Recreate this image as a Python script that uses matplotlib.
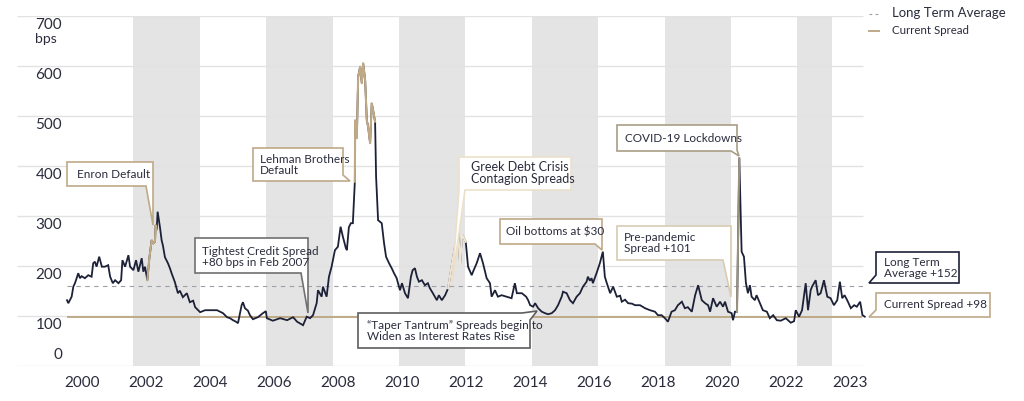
import matplotlib
matplotlib.use("Agg")
import matplotlib.pyplot as plt
from matplotlib.patches import Polygon
from matplotlib.lines import Line2D
from matplotlib.transforms import blended_transform_factory

plt.rcParams['font.family'] = ['Lato', 'DejaVu Sans']

# spread history (bps)
years = [
    2000.00, 2000.04, 2000.14, 2000.19, 2000.24, 2000.29, 2000.34, 2000.39, 2000.44, 2000.54,
    2000.64, 2000.74, 2000.79, 2000.84, 2000.89, 2000.97, 2001.05, 2001.14, 2001.24, 2001.30,
    2001.38, 2001.45, 2001.55, 2001.63, 2001.67, 2001.75, 2001.85, 2001.90, 2002.00, 2002.08,
    2002.15, 2002.25, 2002.30, 2002.35, 2002.42, 2002.48, 2002.55, 2002.60, 2002.65, 2002.67,
    2002.70, 2002.73, 2002.80, 2002.85, 2002.89, 2002.95, 2003.04, 2003.10, 2003.15, 2003.25,
    2003.34, 2003.40, 2003.49, 2003.61, 2003.70, 2003.80, 2003.86, 2004.01, 2004.16, 2004.31,
    2004.52, 2004.70, 2004.82, 2004.91, 2005.00, 2005.09, 2005.15, 2005.26, 2005.30, 2005.36,
    2005.45, 2005.51, 2005.60, 2005.75, 2005.90, 2005.99, 2006.02, 2006.20, 2006.42, 2006.63,
    2006.81, 2006.93, 2007.11, 2007.22, 2007.32, 2007.41, 2007.52, 2007.56, 2007.67, 2007.71,
    2007.82, 2007.89, 2007.97, 2008.07, 2008.16, 2008.24, 2008.31, 2008.40, 2008.43, 2008.49,
    2008.55, 2008.61, 2008.67, 2008.68, 2008.73, 2008.77, 2008.83, 2008.88, 2008.92, 2008.98,
    2009.03, 2009.07, 2009.13, 2009.18, 2009.22, 2009.28, 2009.31, 2009.37, 2009.48, 2009.55,
    2009.61, 2009.70, 2009.78, 2009.85, 2009.93, 2009.97, 2010.03, 2010.09, 2010.18, 2010.27,
    2010.36, 2010.41, 2010.48, 2010.54, 2010.60, 2010.69, 2010.78, 2010.87, 2010.93, 2011.02,
    2011.14, 2011.20, 2011.29, 2011.39, 2011.48, 2011.59, 2011.69, 2011.78, 2011.84, 2011.90,
    2012.01, 2012.08, 2012.19, 2012.23, 2012.34, 2012.44, 2012.53, 2012.64, 2012.74, 2012.79,
    2012.89, 2012.98, 2013.09, 2013.24, 2013.39, 2013.49, 2013.55, 2013.70, 2013.83, 2013.89,
    2013.95, 2014.04, 2014.10, 2014.19, 2014.30, 2014.40, 2014.49, 2014.60, 2014.70, 2014.79,
    2014.90, 2014.94, 2015.05, 2015.15, 2015.24, 2015.35, 2015.45, 2015.54, 2015.65, 2015.69,
    2015.75, 2015.80, 2015.84, 2015.95, 2016.05, 2016.14, 2016.20, 2016.26, 2016.36, 2016.45,
    2016.56, 2016.66, 2016.71, 2016.81, 2016.90, 2017.02, 2017.11, 2017.26, 2017.41, 2017.56,
    2017.71, 2017.80, 2017.91, 2018.01, 2018.10, 2018.21, 2018.31, 2018.40, 2018.52, 2018.61,
    2018.70, 2018.82, 2018.92, 2019.01, 2019.12, 2019.22, 2019.31, 2019.37, 2019.46, 2019.57,
    2019.67, 2019.76, 2019.82, 2019.91, 2020.02, 2020.06, 2020.12, 2020.18, 2020.20, 2020.25,
    2020.32, 2020.39, 2020.45, 2020.51, 2020.57, 2020.62, 2020.72, 2020.77, 2020.87, 2020.96,
    2021.08, 2021.17, 2021.27, 2021.38, 2021.50, 2021.65, 2021.80, 2021.90, 2021.95, 2022.05,
    2022.14, 2022.25, 2022.32, 2022.40, 2022.44, 2022.55, 2022.62, 2022.70, 2022.80, 2022.90,
    2023.00, 2023.10, 2023.20, 2023.28, 2023.35, 2023.42, 2023.50, 2023.61, 2023.71, 2023.79,
    2023.89, 2023.96, 2024.03,
]
spread = [
    131, 125, 138, 158, 165, 175, 185, 175, 179, 175,
    181, 178, 205, 208, 198, 218, 198, 198, 201, 178,
    165, 171, 165, 171, 211, 198, 221, 198, 191, 211,
    188, 215, 188, 198, 171, 215, 251, 245, 248, 281,
    272, 308, 277, 251, 240, 217, 205, 195, 185, 167,
    145, 150, 137, 145, 127, 130, 117, 107, 111, 111,
    111, 105, 97, 95, 91, 88, 85, 121, 127, 115,
    110, 101, 93, 97, 105, 109, 95, 90, 95, 91,
    97, 88, 81, 98, 95, 101, 125, 151, 138, 158,
    138, 178, 198, 231, 238, 278, 258, 235, 231, 277,
    285, 285, 368, 491, 455, 578, 598, 565, 605, 571,
    491, 478, 445, 525, 511, 488, 378, 291, 285, 245,
    218, 205, 195, 185, 175, 165, 151, 165, 145, 135,
    178, 191, 195, 178, 168, 171, 161, 165, 155, 145,
    131, 141, 131, 141, 155, 201, 240, 271, 201, 262,
    248, 198, 181, 188, 205, 225, 205, 175, 165, 138,
    151, 138, 141, 138, 135, 165, 145, 145, 138, 131,
    121, 118, 125, 115, 108, 105, 103, 105, 111, 121,
    138, 148, 145, 131, 125, 138, 145, 158, 168, 178,
    170, 175, 165, 185, 205, 228, 178, 165, 145, 158,
    138, 140, 128, 132, 125, 124, 121, 121, 115, 111,
    108, 101, 101, 95, 88, 108, 111, 121, 128, 115,
    117, 108, 141, 161, 131, 125, 121, 108, 135, 118,
    128, 118, 128, 108, 105, 91, 108, 108, 191, 415,
    228, 218, 165, 145, 161, 138, 131, 141, 125, 111,
    108, 95, 101, 91, 90, 95, 86, 89, 111, 98,
    111, 165, 111, 151, 158, 171, 141, 145, 171, 138,
    135, 121, 131, 168, 135, 141, 131, 115, 121, 118,
    128, 101, 98,
]

long_term_avg = 160      # dashed line as drawn (labelled +152)
current_spread = 98
tightest = 80

# event highlights on the line: (start, end, colour)
highlights = [
    (2002.42, 2002.70, '#bfa987'),   # Enron
    (2008.67, 2009.28, '#bfa987'),   # Lehman
    (2011.48, 2012.01, '#f1e6d3'),   # Greek debt crisis
    (2020.18, 2020.25, '#9c9280'),   # COVID
]
shade_bands = [(2002, 2004), (2006, 2008), (2010, 2012), (2014, 2016), (2018, 2020), (2022, 2023.05)]

ytick_vals = [0, 100, 200, 300, 400, 500, 600, 700]
xtick_labels = ['2000', '2002', '2004', '2006', '2008', '2010', '2012',
                '2014', '2016', '2018', '2020', '2022', '2023']
xtick_slots = [0, 2, 4, 6, 8, 10, 12, 14, 16, 18, 20, 22, 24]

NAVY = '#1d2137'
TAN = '#bfa987'
TXT = '#2a2c3c'
W, H = 1024, 401

fig = plt.figure(figsize=(W / 100, H / 100), dpi=100)
x0, x1 = 1998.494, 2024.1
ax = fig.add_axes([17 / W, (H - 365.7) / H, (67 + 24.1 * 33.2 - 17) / W, 350 / H])
ax.set_xlim(x0, x1)
ax.set_ylim(0, 700)
ax.axis('off')

for a, b in shade_bands:
    ax.axvspan(a, b, color='#e4e4e4', lw=0, zorder=0)
ax.hlines(ytick_vals, x0, 2023.98, color='#e2e2e2', lw=1.0, zorder=1)

ax.hlines(long_term_avg, 2000, 2024.07, color='#9d9ea8', lw=0.8,
          linestyles=(0, (4, 4)), zorder=2, clip_on=False)
ax.hlines(current_spread, 2000, 2023.95, color=TAN, lw=1.4, zorder=2)

ax.plot(years, spread, color=NAVY, lw=1.3, zorder=3, solid_joinstyle='miter')
for a, b, c in highlights:
    xs = [y for y in years if a <= y <= b]
    vs = [v for y, v in zip(years, spread) if a <= y <= b]
    ax.plot(xs, vs, color=c, lw=1.5, zorder=4)

# y labels sit just under their gridlines
tr = blended_transform_factory(fig.transFigure, ax.transData)
for v in ytick_vals:
    pos = v - 19 if v > 0 else 21
    ax.text(62 / W, pos, str(v), transform=tr, ha='right', va='center',
            fontsize=11, color=TXT, zorder=6)
ax.text(46 / W, 700 - 47, 'bps', transform=tr, ha='center', va='center',
        fontsize=10, color=TXT, zorder=6)

for lab, slot in zip(xtick_labels, xtick_slots):
    fig.text((82 + 32 * slot) / W, 1 - 383 / H, lab, ha='center', va='center',
             fontsize=11, color=TXT)


def px(pts):
    return [(x / W, 1 - y / H) for x, y in pts]


def callout(verts, color, text, tx, ty, fs=8.5):
    fig.patches.append(Polygon(px(verts), closed=True, transform=fig.transFigure,
                               fc='white', ec=color, lw=1.2, zorder=5))
    fig.text(tx / W, 1 - ty / H, text, ha='left', va='center', fontsize=fs,
             color=TXT, linespacing=0.95, zorder=6)


callout([(67, 162), (153, 162), (153, 225), (146, 186), (67, 186)],
        TAN, 'Enron Default', 77, 174)
callout([(253, 148), (343, 148), (343, 175), (350, 181), (253, 181)],
        TAN, 'Lehman Brothers\nDefault', 260, 165)
callout([(459, 157), (571, 157), (571, 190), (465, 190), (452, 283), (459, 190)],
        '#ece0cb', 'Greek Debt Crisis\nContagion Spreads', 471, 173, fs=9)
callout([(617, 125), (737, 125), (737, 150), (739, 156), (731, 151), (617, 151)],
        '#a89d86', 'COVID-19 Lockdowns', 625, 138)
callout([(195, 238), (308, 238), (308, 313), (301, 273), (195, 273)],
        '#707070', 'Tightest Credit Spread\n+80 bps in Feb 2007', 202, 257)
callout([(500, 219), (602, 219), (602, 250), (595, 244), (500, 244)],
        TAN, 'Oil bottoms at $30', 506, 232)
callout([(617, 226), (731, 226), (731, 297), (723, 260), (617, 260)],
        '#d8ccb2', 'Pre-pandemic\nSpread +101', 624, 243)
callout([(358, 313), (522, 313), (537, 311), (530, 320), (530, 348), (358, 348)],
        '#5e5e5e', '\u201cTaper Tantrum\u201d Spreads begin to\nWiden as Interest Rates Rise', 367, 331)
callout([(876, 252), (959, 252), (959, 283), (869, 283), (876, 275)],
        NAVY, 'Long Term\nAverage +152', 884, 268)
callout([(876, 293), (990, 293), (990, 317), (869, 317), (876, 310)],
        TAN, 'Current Spread +98', 884, 305)

# legend
fig.lines.append(Line2D([869 / W, 879 / W], [1 - 14 / H] * 2, transform=fig.transFigure,
                        color='#9d9ea8', lw=0.8, linestyle=(0, (2.5, 3))))
fig.lines.append(Line2D([869 / W, 879 / W], [1 - 31 / H] * 2, transform=fig.transFigure,
                        color=TAN, lw=1.4))
fig.text(892 / W, 1 - 13 / H, 'Long Term Average', ha='left', va='center',
         fontsize=9.5, color=TXT)
fig.text(892 / W, 1 - 31 / H, 'Current Spread', ha='left', va='center',
         fontsize=8.3, color=TXT)

fig.savefig('out.png', dpi=100)
